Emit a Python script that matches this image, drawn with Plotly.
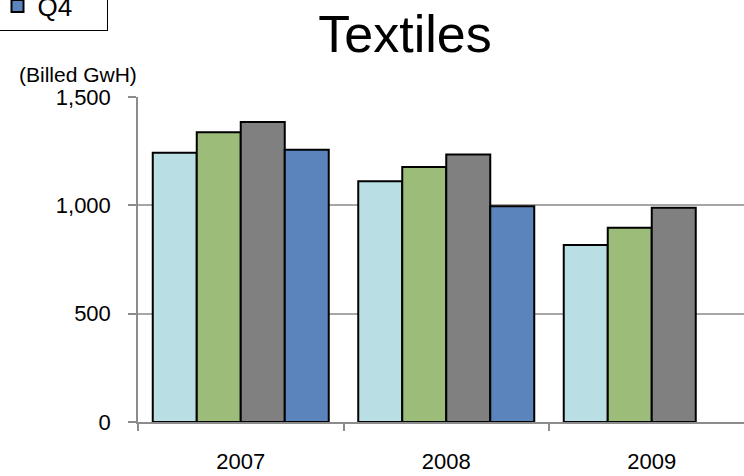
import plotly.graph_objects as go

years = ["2007", "2008", "2009"]
q1 = [1243, 1111, 817]
q2 = [1337, 1177, 897]
q3 = [1385, 1235, 989]
q4 = [1257, 996, None]
series_names = ["Q1", "Q2", "Q3", "Q4"]
series_colors = ["#B9DFE4", "#9BBD79", "#808080", "#5B84BD"]
y_ticks = [0, 500, 1000, 1500]
y_tick_labels = ["0", "500", "1,000", "1,500"]

W, H = 744, 476
L, R, T, B = 138, 0, 97, 54
FONT = "Liberation Sans, Arial, sans-serif"
PAD = "\u00a0" * 4

fig = go.Figure()
for name, vals, col in zip(series_names, [q1, q2, q3, q4], series_colors):
    fig.add_trace(go.Bar(
        x=years, y=vals, name=name + (PAD if name == "Q4" else ""),
        showlegend=(name == "Q4"),
        marker=dict(color=col, line=dict(color="#000000", width=2)),
    ))

plot_w = W - L - R
plot_h = H - T - B
cat_px = 205.5
fig.update_layout(
    width=W, height=H,
    margin=dict(l=L, r=R, t=T, b=B, autoexpand=False),
    paper_bgcolor="white", plot_bgcolor="white",
    barmode="group", bargap=0.1436, bargroupgap=0,
    title=dict(text="Textiles", x=405 / W, xanchor="center",
               y=1 - 34 / H, yanchor="middle", xref="container", yref="container",
               font=dict(family=FONT, size=52, color="#000000")),
    showlegend=True,
    legend=dict(xref="paper", yref="paper", x=(-4 - L) / plot_w, xanchor="left",
                y=(H - B - 31) / plot_h, yanchor="bottom", bgcolor="white",
                bordercolor="#000000", borderwidth=1.5,
                font=dict(family=FONT, size=26, color="#000000"),
                traceorder="normal"),
    xaxis=dict(type="category", range=[-0.5, -0.5 + plot_w / cat_px],
               showgrid=False, showline=True, linecolor="#8C8C8C", linewidth=1.5,
               ticks="outside", tickson="boundaries", ticklen=7, tickwidth=1.5,
               tickcolor="#8C8C8C", ticklabelstandoff=19,
               tickfont=dict(family=FONT, size=22, color="#000000")),
    yaxis=dict(range=[0, 1500], tickvals=y_ticks, ticktext=y_tick_labels,
               showgrid=True, gridcolor="#A6A6A6", gridwidth=1.5,
               showline=True, linecolor="#8C8C8C", linewidth=1.5,
               ticks="outside", ticklen=8, tickwidth=1.5, tickcolor="#8C8C8C",
               ticklabelstandoff=13, zeroline=False,
               tickfont=dict(family=FONT, size=22, color="#000000")),
    annotations=[dict(text="(Billed GwH)", xref="paper", yref="paper",
                      x=(16.7 - L) / plot_w, xanchor="left",
                      y=(H - B - 74) / plot_h, yanchor="middle", showarrow=False,
                      font=dict(family=FONT, size=21, color="#000000"))],
)

fig.write_html("out.html", config={"displayModeBar": False},
               post_script="document.body.style.margin='0px';document.body.style.overflow='hidden';")
